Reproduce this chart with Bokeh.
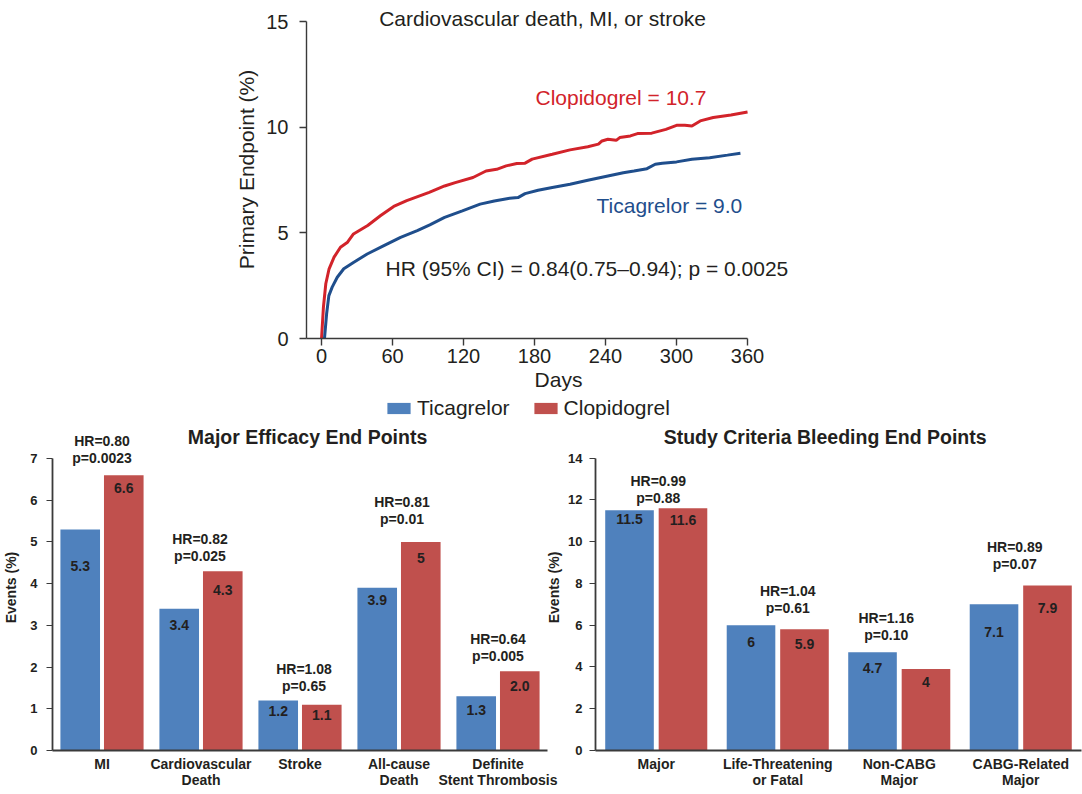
from bokeh.plotting import figure
from bokeh.models import (Range1d, FactorRange, SingleIntervalTicker, Label, Legend,
                          LegendItem, ColumnDataSource)
from bokeh.layouts import column, row
from bokeh.transform import dodge
from bokeh.core.properties import value
from bokeh.embed import file_html
from bokeh.resources import INLINE

# ---------------- data ----------------
clop_days = [0, 1.6, 3.6, 6.4, 10.6, 16, 22, 27, 39, 50, 61, 72, 91, 104, 113, 128, 139,
             148, 156, 165, 172, 178, 195, 210, 225, 234, 237, 242, 249, 252, 261, 267,
             279, 291, 300, 307, 313, 320, 331, 346, 360]
clop_vals = [0, 1.48, 2.59, 3.3, 3.85, 4.32, 4.56, 4.95, 5.35, 5.82, 6.25, 6.53, 6.92,
             7.22, 7.38, 7.62, 7.93, 8.01, 8.17, 8.28, 8.3, 8.49, 8.72, 8.93, 9.08, 9.2,
             9.35, 9.43, 9.38, 9.51, 9.59, 9.7, 9.72, 9.9, 10.09, 10.09, 10.06, 10.3,
             10.46, 10.58, 10.72]
tica_days = [2.5, 4.3, 6.2, 9, 13.3, 18.8, 27.3, 38.6, 52.7, 66.8, 80.9, 91.5, 104, 119,
             134, 146, 159, 166, 172, 183, 195, 210, 225, 240, 255, 264, 275, 282, 288,
             300, 313, 328, 343, 354]
tica_vals = [0, 1.17, 2.03, 2.43, 2.9, 3.3, 3.61, 4.0, 4.4, 4.79, 5.11, 5.38, 5.73, 6.04,
             6.36, 6.51, 6.64, 6.67, 6.86, 7.02, 7.15, 7.3, 7.49, 7.67, 7.85, 7.93, 8.04,
             8.25, 8.3, 8.36, 8.49, 8.56, 8.68, 8.77]

km_title = "Cardiovascular death, MI, or stroke"
clop_note = "Clopidogrel = 10.7"
tica_note = "Ticagrelor = 9.0"
hr_note = "HR (95% CI) = 0.84(0.75\u20130.94); p = 0.0025"
series_names = ["Ticagrelor", "Clopidogrel"]

eff_cats = ["MI", "Cardiovascular\nDeath", "Stroke", "All-cause\nDeath",
            "Definite\nStent Thrombosis"]
eff_tica = [5.3, 3.4, 1.2, 3.9, 1.3]
eff_clop = [6.6, 4.3, 1.1, 5.0, 1.9]
eff_tica_lbl = ["5.3", "3.4", "1.2", "3.9", "1.3"]
eff_clop_lbl = ["6.6", "4.3", "1.1", "5", "2.0"]
eff_hr = ["HR=0.80", "HR=0.82", "HR=1.08", "HR=0.81", "HR=0.64"]
eff_p = ["p=0.0023", "p=0.025", "p=0.65", "p=0.01", "p=0.005"]

bl_cats = ["Major", "Life-Threatening\nor Fatal", "Non-CABG\nMajor", "CABG-Related\nMajor"]
bl_tica = [11.5, 6.0, 4.7, 7.0]
bl_clop = [11.6, 5.8, 3.9, 7.9]
bl_tica_lbl = ["11.5", "6", "4.7", "7.1"]
bl_clop_lbl = ["11.6", "5.9", "4", "7.9"]
bl_hr = ["HR=0.99", "HR=1.04", "HR=1.16", "HR=0.89"]
bl_p = ["p=0.88", "p=0.61", "p=0.10", "p=0.07"]

# ---------------- styles ----------------
FONT = "Liberation Sans"
TXT = "#231f20"
AX = "#3a3a3a"
RED_LINE = "#d2232a"
BLUE_LINE = "#1f4e8c"
BAR_BLUE = "#4f81bd"
BAR_RED = "#c0504d"

# label placement tweaks (pixels)
eff_tica_drop = [37, 16, 11, 12, 14]
eff_clop_drop = [13, 19, 10, 16, 15]
eff_gap = [17, 15, 14, 23, 15]
eff_dx = [0, -1, 4, 3, 0]
bl_tica_drop = [9, 17, 16, 28]
bl_clop_drop = [12, 15, 13, 22]
bl_gap = [10, 17, 17, 22]
bl_dx = [2, 10, -13, -6]

# ---------------- top: KM curves ----------------
top = figure(width=1082, height=395, x_range=Range1d(-12.7, 413.2),
             y_range=Range1d(0, 16.0),
             output_backend="svg", toolbar_location=None,
             min_border_left=306, min_border_right=272, min_border_top=0,
             min_border_bottom=57)
top.outline_line_color = None
top.grid.visible = False
top.background_fill_alpha = 0
top.border_fill_alpha = 0

top.line(clop_days, clop_vals, line_color=RED_LINE, line_width=3)
top.line(tica_days, tica_vals, line_color=BLUE_LINE, line_width=3)

xa = top.xaxis[0]
xa.ticker = SingleIntervalTicker(interval=60, num_minor_ticks=0)
xa.bounds = (-12.7, 360)
ya = top.yaxis[0]
ya.ticker = SingleIntervalTicker(interval=5, num_minor_ticks=0)
ya.bounds = (0, 15)
for ax in (xa, ya):
    ax.axis_line_color = AX
    ax.axis_line_width = 1.4
    ax.major_tick_line_color = AX
    ax.major_tick_line_width = 1.4
    ax.major_tick_out = 7
    ax.major_tick_in = 0
    ax.minor_tick_line_color = None
    ax.major_label_text_font = FONT
    ax.major_label_text_font_size = "20px"
    ax.major_label_text_color = TXT
    ax.axis_label_text_font = FONT
    ax.axis_label_text_font_size = "21px"
    ax.axis_label_text_font_style = "normal"
    ax.axis_label_text_color = TXT
xa.axis_label = "Days"
xa.major_label_standoff = 3
xa.axis_label_standoff = 2
ya.axis_label = "Primary Endpoint (%)"
ya.major_label_standoff = 11
ya.axis_label_standoff = 5

top.add_layout(Label(x=186.8, y=15.14, text=km_title, text_align="center",
                     text_baseline="middle", text_font=FONT, text_font_size="21px",
                     text_color=TXT))
top.add_layout(Label(x=180.8, y=11.41, text=clop_note, text_align="left",
                     text_baseline="middle", text_font=FONT, text_font_size="21px",
                     text_color=RED_LINE))
top.add_layout(Label(x=232.4, y=6.29, text=tica_note, text_align="left",
                     text_baseline="middle", text_font=FONT, text_font_size="21px",
                     text_color=BLUE_LINE))
top.add_layout(Label(x=54.1, y=3.31, text=hr_note, text_align="left",
                     text_baseline="middle", text_font=FONT, text_font_size="21px",
                     text_color=TXT))

# ---------------- legend strip ----------------
# (its frame is aligned with the KM frame above, which starts at x = 306 px)
leg = figure(width=1082, height=29, x_range=Range1d(0, 1), y_range=Range1d(0, 1),
             output_backend="svg", toolbar_location=None,
             x_axis_location=None, y_axis_location=None,
             min_border_left=0, min_border_right=0, min_border_top=0, min_border_bottom=0)
leg.outline_line_color = None
leg.grid.visible = False
leg.background_fill_alpha = 0
leg.border_fill_alpha = 0
# legend-only renderers, kept outside the visible range
offscreen = ColumnDataSource(data=dict(x=[-10], top=[-10]))
rb = leg.vbar(x="x", top="top", width=0.1, source=offscreen, fill_color=BAR_BLUE,
              line_color=None)
rr = leg.vbar(x="x", top="top", width=0.1, source=offscreen, fill_color=BAR_RED,
              line_color=None)
legend = Legend(items=[LegendItem(label=series_names[0], renderers=[rb]),
                       LegendItem(label=series_names[1], renderers=[rr])],
                orientation="horizontal", location=(78, 4), glyph_width=29,
                glyph_height=14, label_standoff=4, spacing=21, padding=0, margin=0,
                border_line_color=None, background_fill_alpha=0,
                label_text_font=FONT, label_text_font_size="21px",
                label_text_color=TXT)
leg.add_layout(legend)


# ---------------- bottom bar charts ----------------
def bar_chart(cats, tica, clop, tica_lbl, clop_lbl, hr, pv, tdrop, cdrop, gap, dx,
              width, y_end, bound, interval, mbl, mbr, mbb, title, title_x, title_y,
              lab_standoff, axlab_standoff):
    src = ColumnDataSource(data=dict(
        cat=cats, tica=tica, clop=clop, tica_lbl=tica_lbl, clop_lbl=clop_lbl,
        hr=hr, pv=pv, topv=[max(a, b) for a, b in zip(tica, clop)],
        tdrop=tdrop, cdrop=cdrop,
        p_off=[-g for g in gap], hr_off=[-(g + 17) for g in gap], dx=dx))
    f = figure(width=width, height=370, x_range=FactorRange(*cats),
               y_range=Range1d(0, y_end), output_backend="svg", toolbar_location=None,
               min_border_left=mbl, min_border_right=mbr, min_border_top=0,
               min_border_bottom=mbb)
    f.outline_line_color = None
    f.grid.visible = False
    f.background_fill_alpha = 0
    f.border_fill_alpha = 0
    f.vbar(x=dodge("cat", -0.22, range=f.x_range), top="tica", width=0.40, source=src,
           fill_color=BAR_BLUE, line_color=None)
    f.vbar(x=dodge("cat", 0.22, range=f.x_range), top="clop", width=0.40, source=src,
           fill_color=BAR_RED, line_color=None)
    common = dict(source=src, text_align="center", text_baseline="middle",
                  text_font=value(FONT), text_font_style="bold", text_font_size="14px",
                  text_color=TXT)
    f.text(x=dodge("cat", -0.22, range=f.x_range), y="tica", text="tica_lbl",
           y_offset="tdrop", **common)
    f.text(x=dodge("cat", 0.22, range=f.x_range), y="clop", text="clop_lbl",
           y_offset="cdrop", **common)
    f.text(x=dodge("cat", 0, range=f.x_range), y="topv", text="pv",
           x_offset="dx", y_offset="p_off", **common)
    f.text(x=dodge("cat", 0, range=f.x_range), y="topv", text="hr",
           x_offset="dx", y_offset="hr_off", **common)

    ya = f.yaxis[0]
    ya.ticker = SingleIntervalTicker(interval=interval, num_minor_ticks=0)
    ya.bounds = (0, bound)
    ya.axis_label = "Events (%)"
    ya.major_tick_out = 6
    ya.major_tick_in = 0
    ya.major_label_standoff = lab_standoff
    ya.axis_label_standoff = axlab_standoff
    xa = f.xaxis[0]
    xa.major_tick_out = 0
    xa.major_label_standoff = 5
    xa.major_label_text_line_height = 1.0
    for ax in (xa, ya):
        ax.axis_line_color = AX
        ax.axis_line_width = 1.8
        ax.major_tick_line_color = AX if ax is ya else None
        ax.minor_tick_line_color = None
        ax.major_label_text_font = FONT
        ax.major_label_text_font_style = "bold"
        ax.major_label_text_color = TXT
        ax.axis_label_text_font = FONT
        ax.axis_label_text_font_style = "bold"
        ax.axis_label_text_font_size = "14px"
        ax.axis_label_text_color = TXT
    ya.major_label_text_font_size = "13px"
    xa.major_label_text_font_size = "14px"
    f.add_layout(Label(x=title_x, y=title_y, text=title, text_align="center",
                       text_baseline="middle", text_font=FONT, text_font_style="bold",
                       text_font_size="19.5px", text_color=TXT))
    return f


left = bar_chart(eff_cats, eff_tica, eff_clop, eff_tica_lbl, eff_clop_lbl, eff_hr, eff_p,
                 eff_tica_drop, eff_clop_drop, eff_gap, eff_dx,
                 width=570, y_end=7.817, bound=7, interval=1, mbl=52, mbr=23, mbb=42,
                 title="Major Efficacy End Points", title_x=2.576, title_y=7.507,
                 lab_standoff=9, axlab_standoff=8)
right = bar_chart(bl_cats, bl_tica, bl_clop, bl_tica_lbl, bl_clop_lbl, bl_hr, bl_p,
                  bl_tica_drop, bl_clop_drop, bl_gap, bl_dx,
                  width=539, y_end=15.61, bound=14, interval=2, mbl=48, mbr=1, mbb=44,
                  title="Study Criteria Bleeding End Points", title_x=1.89, title_y=14.99,
                  lab_standoff=7, axlab_standoff=3)
right.margin = (0, 0, 0, -27)

layout = column(top, leg, row(left, right))
open("out.html", "w").write(file_html(layout, INLINE))
